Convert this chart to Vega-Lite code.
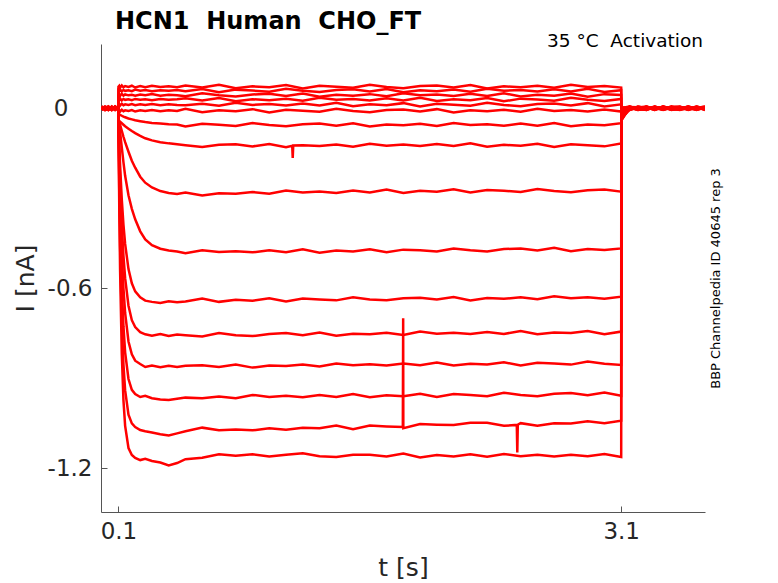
{
  "$schema": "https://vega.github.io/schema/vega-lite/v6.json",
  "description": "HCN1 human activation traces at 35 C, current against time for each voltage step.",
  "autosize": "none",
  "width": 604,
  "height": 468,
  "padding": {"left": 101, "top": 44, "right": 73, "bottom": 71},
  "title": {
    "text": "HCN1\u00a0 Human\u00a0 CHO_FT",
    "anchor": "start",
    "frame": "group",
    "dx": 14,
    "dy": 24,
    "offset": 3,
    "baseline": "alphabetic",
    "font": "DejaVu Sans",
    "fontSize": 24,
    "fontWeight": "bold",
    "color": "#000000"
  },
  "layer": [
    {
      "data": {
        "values": [
          {"t":0,"A":0.004,"B":-0.003,"C":0.006,"D":-0.005,"E":0.001,"F":-0.002,"G":0.005,"H":-0.006,"J":0.003,"K":0,"M":-0.004,"N":0.006,"P":-0.001,"Q":-0.005,"R":0.002,"S":0.004},
          {"t":0.02,"A":-0.005,"B":0.003,"C":-0.002,"D":0.006,"E":-0.004,"F":0.002,"G":-0.006,"H":0.004,"J":0,"K":-0.003,"M":0.005,"N":-0.002,"P":0.004,"Q":0.001,"R":-0.006,"S":0.003},
          {"t":0.04,"A":0.002,"B":-0.006,"C":0.004,"D":0,"E":-0.005,"F":0.006,"G":-0.002,"H":0.003,"J":-0.004,"K":0.005,"M":0,"N":-0.006,"P":0.002,"Q":-0.003,"R":0.006,"S":-0.001},
          {"t":0.06,"A":-0.003,"B":0.005,"C":-0.006,"D":0.002,"E":0.004,"F":-0.004,"G":0.001,"H":-0.005,"J":0.006,"K":-0.002,"M":0.003,"N":0.004,"P":-0.006,"Q":0.005,"R":-0.003,"S":0},
          {"t":0.08,"A":0.006,"B":0,"C":0.003,"D":-0.004,"E":-0.001,"F":0.005,"G":-0.003,"H":0.006,"J":-0.005,"K":0.002,"M":-0.006,"N":0.001,"P":0.005,"Q":-0.004,"R":0.003,"S":-0.005},
          {"t":0.099,"A":-0.002,"B":0.004,"C":-0.004,"D":0.003,"E":0.005,"F":-0.005,"G":0.002,"H":-0.002,"J":0.001,"K":-0.006,"M":0.004,"N":-0.003,"P":0,"Q":0.006,"R":-0.002,"S":0.002},
          {"t":0.1,"A":0.072,"B":0.059,"C":0.044,"D":0.029,"E":0.012,"F":-0.008,"G":-0.02,"H":-0.04,"J":-0.04,"K":-0.04,"M":-0.04,"N":-0.04,"P":-0.04,"Q":-0.04,"R":-0.04,"S":-0.04},
          {"t":0.105,"A":0.075,"B":0.057,"C":0.047,"D":0.027,"E":0.014,"F":-0.006,"G":-0.021,"H":-0.042,"J":-0.045,"K":-0.06,"M":-0.12,"N":-0.15,"P":-0.183,"Q":-0.227,"R":-0.277,"S":-0.327},
          {"t":0.11,"A":0.069,"B":0.062,"C":0.041,"D":0.032,"E":0.009,"F":-0.011,"G":-0.022,"H":-0.045,"J":-0.055,"K":-0.08,"M":-0.191,"N":-0.242,"P":-0.301,"Q":-0.376,"R":-0.459,"S":-0.541},
          {"t":0.12,"A":0.076,"B":0.056,"C":0.048,"D":0.026,"E":0.015,"F":-0.005,"G":-0.025,"H":-0.05,"J":-0.075,"K":-0.13,"M":-0.303,"N":-0.388,"P":-0.479,"Q":-0.59,"R":-0.707,"S":-0.818},
          {"t":0.13,"A":0.07,"B":0.061,"C":0.042,"D":0.031,"E":0.01,"F":-0.01,"G":-0.028,"H":-0.055,"J":-0.095,"K":-0.18,"M":-0.388,"N":-0.492,"P":-0.6,"Q":-0.726,"R":-0.854,"S":-0.973},
          {"t":0.14,"A":0.074,"B":0.058,"C":0.046,"D":0.028,"E":0.013,"F":-0.007,"G":-0.03,"H":-0.06,"J":-0.113,"K":-0.225,"M":-0.452,"N":-0.566,"P":-0.682,"Q":-0.813,"R":-0.94,"S":-1.058},
          {"t":0.16,"A":0.071,"B":0.06,"C":0.043,"D":0.03,"E":0.011,"F":-0.009,"G":-0.034,"H":-0.068,"J":-0.145,"K":-0.29,"M":-0.536,"N":-0.658,"P":-0.777,"Q":-0.902,"R":-1.021,"S":-1.132},
          {"t":0.18,"A":0.075,"B":0.057,"C":0.045,"D":0.027,"E":0.014,"F":-0.006,"G":-0.037,"H":-0.076,"J":-0.175,"K":-0.335,"M":-0.583,"N":-0.706,"P":-0.82,"Q":-0.938,"R":-1.05,"S":-1.155},
          {"t":0.2,"A":0.069,"B":0.062,"C":0.042,"D":0.031,"E":0.01,"F":-0.011,"G":-0.04,"H":-0.083,"J":-0.198,"K":-0.37,"M":-0.61,"N":-0.729,"P":-0.841,"Q":-0.952,"R":-1.062,"S":-1.165},
          {"t":0.23,"A":0.074,"B":0.058,"C":0.046,"D":0.028,"E":0.013,"F":-0.007,"G":-0.043,"H":-0.092,"J":-0.228,"K":-0.41,"M":-0.63,"N":-0.746,"P":-0.852,"Q":-0.962,"R":-1.072,"S":-1.172},
          {"t":0.26,"A":0.07,"B":0.061,"C":0.043,"D":0.03,"E":0.011,"F":-0.009,"G":-0.046,"H":-0.1,"J":-0.248,"K":-0.437,"M":-0.641,"N":-0.753,"P":-0.862,"Q":-0.958,"R":-1.076,"S":-1.168},
          {"t":0.3,"A":0.075,"B":0.057,"C":0.047,"D":0.027,"E":0.014,"F":-0.006,"G":-0.049,"H":-0.107,"J":-0.264,"K":-0.456,"M":-0.645,"N":-0.758,"P":-0.857,"Q":-0.966,"R":-1.08,"S":-1.175},
          {"t":0.35,"A":0.071,"B":0.06,"C":0.042,"D":0.031,"E":0.01,"F":-0.01,"G":-0.051,"H":-0.113,"J":-0.276,"K":-0.468,"M":-0.649,"N":-0.752,"P":-0.863,"Q":-0.97,"R":-1.086,"S":-1.18},
          {"t":0.4,"A":0.073,"B":0.058,"C":0.045,"D":0.028,"E":0.013,"F":-0.007,"G":-0.053,"H":-0.117,"J":-0.282,"K":-0.474,"M":-0.643,"N":-0.759,"P":-0.858,"Q":-0.972,"R":-1.09,"S":-1.19},
          {"t":0.45,"A":0.07,"B":0.061,"C":0.043,"D":0.03,"E":0.011,"F":-0.009,"G":-0.054,"H":-0.12,"J":-0.286,"K":-0.477,"M":-0.646,"N":-0.754,"P":-0.862,"Q":-0.968,"R":-1.083,"S":-1.182},
          {"t":0.5,"A":0.076,"B":0.057,"C":0.04,"D":0.033,"E":0.01,"F":-0.002,"G":-0.061,"H":-0.123,"J":-0.281,"K":-0.483,"M":-0.644,"N":-0.756,"P":-0.858,"Q":-0.964,"R":-1.076,"S":-1.169},
          {"t":0.6,"A":0.069,"B":0.064,"C":0.05,"D":0.026,"E":0.015,"F":-0.013,"G":-0.052,"H":-0.129,"J":-0.291,"K":-0.473,"M":-0.634,"N":-0.76,"P":-0.856,"Q":-0.966,"R":-1.064,"S":-1.164},
          {"t":0.7,"A":0.078,"B":0.053,"C":0.043,"D":0.034,"E":0.008,"F":-0.007,"G":-0.055,"H":-0.122,"J":-0.283,"K":-0.479,"M":-0.645,"N":-0.749,"P":-0.862,"Q":-0.96,"R":-1.073,"S":-1.153},
          {"t":0.8,"A":0.067,"B":0.062,"C":0.039,"D":0.023,"E":0.018,"F":-0.01,"G":-0.059,"H":-0.12,"J":-0.285,"K":-0.476,"M":-0.638,"N":-0.756,"P":-0.854,"Q":-0.966,"R":-1.07,"S":-1.158},
          {"t":0.9,"A":0.073,"B":0.059,"C":0.046,"D":0.03,"E":0.011,"F":-0.003,"G":-0.049,"H":-0.127,"J":-0.279,"K":-0.48,"M":-0.641,"N":-0.759,"P":-0.864,"Q":-0.955,"R":-1.073,"S":-1.153},
          {"t":1.0,"A":0.07,"B":0.055,"C":0.048,"D":0.027,"E":0.014,"F":-0.014,"G":-0.056,"H":-0.119,"J":-0.285,"K":-0.473,"M":-0.633,"N":-0.752,"P":-0.857,"Q":-0.962,"R":-1.066,"S":-1.16},
          {"t":1.1,"A":0.077,"B":0.065,"C":0.041,"D":0.032,"E":0.009,"F":-0.005,"G":-0.06,"H":-0.13,"J":-0.274,"K":-0.48,"M":-0.644,"N":-0.749,"P":-0.859,"Q":-0.958,"R":-1.071,"S":-1.154},
          {"t":1.137,"H":-0.125},
          {"t":1.14,"H":-0.166},
          {"t":1.143,"H":-0.124},
          {"t":1.2,"A":0.066,"B":0.058,"C":0.049,"D":0.025,"E":0.016,"F":-0.008,"G":-0.053,"H":-0.123,"J":-0.281,"K":-0.47,"M":-0.634,"N":-0.756,"P":-0.854,"Q":-0.963,"R":-1.064,"S":-1.149},
          {"t":1.3,"A":0.075,"B":0.054,"C":0.038,"D":0.035,"E":0.009,"F":-0.012,"G":-0.051,"H":-0.126,"J":-0.277,"K":-0.481,"M":-0.637,"N":-0.747,"P":-0.86,"Q":-0.955,"R":-1.066,"S":-1.159},
          {"t":1.4,"A":0.072,"B":0.061,"C":0.045,"D":0.028,"E":0.018,"F":-0.002,"G":-0.058,"H":-0.121,"J":-0.282,"K":-0.474,"M":-0.64,"N":-0.758,"P":-0.85,"Q":-0.962,"R":-1.057,"S":-1.162},
          {"t":1.5,"A":0.068,"B":0.063,"C":0.042,"D":0.031,"E":0.007,"F":-0.009,"G":-0.05,"H":-0.128,"J":-0.274,"K":-0.477,"M":-0.63,"N":-0.751,"P":-0.856,"Q":-0.952,"R":-1.069,"S":-1.154},
          {"t":1.6,"A":0.078,"B":0.056,"C":0.047,"D":0.026,"E":0.013,"F":-0.013,"G":-0.061,"H":-0.118,"J":-0.281,"K":-0.47,"M":-0.637,"N":-0.753,"P":-0.853,"Q":-0.963,"R":-1.057,"S":-1.154},
          {"t":1.7,"A":0.071,"B":0.064,"C":0.04,"D":0.033,"E":0.01,"F":-0.006,"G":-0.054,"H":-0.125,"J":-0.271,"K":-0.48,"M":-0.64,"N":-0.748,"P":-0.857,"Q":-0.956,"R":-1.06,"S":-1.16},
          {"t":1.797,"R":-1.062},
          {"t":1.799,"R":-0.7},
          {"t":1.8,"A":0.067,"B":0.053,"C":0.05,"D":0.026,"E":0.017,"F":-0.004,"G":-0.057,"H":-0.121,"J":-0.282,"K":-0.471,"M":-0.633,"N":-0.755,"P":-0.85,"Q":-0.959,"R":-1.066,"S":-1.15},
          {"t":1.9,"A":0.074,"B":0.06,"C":0.043,"D":0.035,"E":0.006,"F":-0.011,"G":-0.052,"H":-0.126,"J":-0.275,"K":-0.473,"M":-0.631,"N":-0.744,"P":-0.856,"Q":-0.951,"R":-1.052,"S":-1.163},
          {"t":2.0,"A":0.076,"B":0.057,"C":0.046,"D":0.024,"E":0.015,"F":-0.003,"G":-0.059,"H":-0.119,"J":-0.278,"K":-0.477,"M":-0.637,"N":-0.751,"P":-0.847,"Q":-0.962,"R":-1.054,"S":-1.155},
          {"t":2.1,"A":0.069,"B":0.062,"C":0.041,"D":0.03,"E":0.012,"F":-0.014,"G":-0.049,"H":-0.126,"J":-0.27,"K":-0.467,"M":-0.629,"N":-0.748,"P":-0.857,"Q":-0.952,"R":-1.055,"S":-1.16},
          {"t":2.2,"A":0.077,"B":0.055,"C":0.048,"D":0.027,"E":0.008,"F":-0.007,"G":-0.056,"H":-0.117,"J":-0.281,"K":-0.473,"M":-0.64,"N":-0.752,"P":-0.851,"Q":-0.955,"R":-1.048,"S":-1.153},
          {"t":2.3,"A":0.066,"B":0.065,"C":0.041,"D":0.034,"E":0.018,"F":-0.01,"G":-0.053,"H":-0.128,"J":-0.272,"K":-0.477,"M":-0.632,"N":-0.745,"P":-0.854,"Q":-0.959,"R":-1.048,"S":-1.161},
          {"t":2.4,"A":0.073,"B":0.058,"C":0.05,"D":0.023,"E":0.011,"F":-0.005,"G":-0.058,"H":-0.122,"J":-0.275,"K":-0.469,"M":-0.635,"N":-0.752,"P":-0.846,"Q":-0.948,"R":-1.058,"S":-1.152},
          {"t":2.477,"R":-1.055},
          {"t":2.48,"R":-1.147},
          {"t":2.483,"R":-1.054},
          {"t":2.5,"A":0.07,"B":0.061,"C":0.039,"D":0.032,"E":0.007,"F":-0.012,"G":-0.051,"H":-0.125,"J":-0.279,"K":-0.467,"M":-0.63,"N":-0.742,"P":-0.857,"Q":-0.955,"R":-1.049,"S":-1.159},
          {"t":2.6,"A":0.075,"B":0.056,"C":0.045,"D":0.029,"E":0.014,"F":-0.002,"G":-0.058,"H":-0.118,"J":-0.269,"K":-0.474,"M":-0.636,"N":-0.753,"P":-0.848,"Q":-0.959,"R":-1.058,"S":-1.154},
          {"t":2.7,"A":0.068,"B":0.063,"C":0.042,"D":0.025,"E":0.016,"F":-0.009,"G":-0.049,"H":-0.129,"J":-0.276,"K":-0.465,"M":-0.626,"N":-0.747,"P":-0.85,"Q":-0.951,"R":-1.049,"S":-1.16},
          {"t":2.8,"A":0.078,"B":0.056,"C":0.049,"D":0.035,"E":0.009,"F":-0.006,"G":-0.06,"H":-0.12,"J":-0.28,"K":-0.476,"M":-0.633,"N":-0.749,"P":-0.854,"Q":-0.949,"R":-1.05,"S":-1.154},
          {"t":2.9,"A":0.071,"B":0.065,"C":0.038,"D":0.028,"E":0.017,"F":-0.011,"G":-0.054,"H":-0.123,"J":-0.273,"K":-0.469,"M":-0.63,"N":-0.742,"P":-0.844,"Q":-0.956,"R":-1.043,"S":-1.159},
          {"t":3.0,"A":0.074,"B":0.054,"C":0.047,"D":0.024,"E":0.006,"F":-0.004,"G":-0.057,"H":-0.127,"J":-0.271,"K":-0.472,"M":-0.635,"N":-0.753,"P":-0.851,"Q":-0.947,"R":-1.049,"S":-1.152},
          {"t":3.1,"A":0.069,"B":0.06,"C":0.044,"D":0.031,"E":0.013,"F":-0.011,"G":-0.05,"H":-0.117,"J":-0.278,"K":-0.467,"M":-0.628,"N":-0.744,"P":-0.855,"Q":-0.958,"R":-1.041,"S":-1.162},
          {"t":3.101,"A":0.002,"B":0.002,"C":0.001,"D":0.002,"E":0.001,"F":0,"G":-0.01,"H":-0.015,"J":-0.02,"K":-0.025,"M":-0.03,"N":-0.03,"P":-0.035,"Q":-0.035,"R":-0.04,"S":-0.04},
          {"t":3.15,"A":0.004,"B":-0.003,"C":0.006,"D":-0.005,"E":0.001,"F":-0.002,"G":0.005,"H":-0.006,"J":0.003,"K":0,"M":-0.004,"N":0.006,"P":-0.001,"Q":-0.005,"R":0.002,"S":0.004},
          {"t":3.2,"A":-0.005,"B":0.003,"C":-0.002,"D":0.006,"E":-0.004,"F":0.002,"G":-0.006,"H":0.004,"J":0,"K":-0.003,"M":0.005,"N":-0.002,"P":0.004,"Q":0.001,"R":-0.006,"S":0.003},
          {"t":3.25,"A":0.002,"B":-0.006,"C":0.004,"D":0,"E":-0.005,"F":0.006,"G":-0.002,"H":0.003,"J":-0.004,"K":0.005,"M":0,"N":-0.006,"P":0.002,"Q":-0.003,"R":0.006,"S":-0.001},
          {"t":3.3,"A":-0.003,"B":0.005,"C":-0.006,"D":0.002,"E":0.004,"F":-0.004,"G":0.001,"H":-0.005,"J":0.006,"K":-0.002,"M":0.003,"N":0.004,"P":-0.006,"Q":0.005,"R":-0.003,"S":0},
          {"t":3.35,"A":0.006,"B":0,"C":0.003,"D":-0.004,"E":-0.001,"F":0.005,"G":-0.003,"H":0.006,"J":-0.005,"K":0.002,"M":-0.006,"N":0.001,"P":0.005,"Q":-0.004,"R":0.003,"S":-0.005},
          {"t":3.4,"A":-0.002,"B":0.004,"C":-0.004,"D":0.003,"E":0.005,"F":-0.005,"G":0.002,"H":-0.002,"J":0.001,"K":-0.006,"M":0.004,"N":-0.003,"P":0,"Q":0.006,"R":-0.002,"S":0.002},
          {"t":3.45,"A":0.003,"B":-0.005,"C":0.002,"D":-0.002,"E":0.006,"F":-0.004,"G":0.001,"H":-0.006,"J":0.004,"K":0,"M":-0.003,"N":0.005,"P":-0.001,"Q":-0.004,"R":0.003,"S":0.002},
          {"t":3.5,"A":-0.004,"B":0.006,"C":-0.003,"D":0.001,"E":-0.005,"F":0.004,"G":-0.002,"H":0.003,"J":-0.006,"K":0.005,"M":0,"N":-0.003,"P":0.006,"Q":-0.002,"R":0.001,"S":-0.004},
          {"t":3.55,"A":0.005,"B":-0.002,"C":0.004,"D":-0.006,"E":0.002,"F":0,"G":0.006,"H":-0.004,"J":0.003,"K":-0.005,"M":0.002,"N":0.004,"P":-0.003,"Q":0.006,"R":-0.005,"S":0.001},
          {"t":3.6,"A":-0.001,"B":0.003,"C":-0.005,"D":0.004,"E":-0.002,"F":0.006,"G":-0.004,"H":0.002,"J":-0.003,"K":0.001,"M":0.005,"N":-0.006,"P":0.003,"Q":-0.001,"R":0.004,"S":-0.002}
        ]
      },
      "transform": [
        {"fold": ["A", "B", "C", "D", "E", "F", "G", "H", "J", "K", "M", "N", "P", "Q", "R", "S"], "as": ["sweep", "i"]},
        {"filter": "isValid(datum.i)"}
      ],
      "mark": {"type": "line", "color": "#ff0000", "strokeWidth": 2.5, "clip": true},
      "encoding": {
        "x": {
          "field": "t",
          "type": "quantitative",
          "scale": {"domain": [-0.004, 3.6], "nice": false, "zero": false},
          "axis": {"values": [0.1, 3.1], "format": ".1f", "title": "t [s]", "labelPadding": 14, "titlePadding": 12}
        },
        "y": {
          "field": "i",
          "type": "quantitative",
          "scale": {"domain": [-1.345, 0.214], "nice": false, "zero": false},
          "axis": {
            "values": [-1.2, -0.6, 0],
            "labelExpr": "datum.value === 0 ? '0' : '-' + format(abs(datum.value), '.1f')",
            "labelPadding": {"condition": {"test": "datum.value === 0", "value": 39}, "value": 15},
            "title": "I [nA]",
            "titlePadding": 9
          }
        },
        "detail": {"field": "sweep", "type": "nominal"}
      }
    },
    {
      "data": {"values": [{"note": "35 \u00b0C\u00a0 Activation"}]},
      "mark": {"type": "text", "align": "right", "baseline": "alphabetic", "font": "DejaVu Sans", "fontSize": 18.5, "color": "#000000"},
      "encoding": {
        "x": {"datum": 3.588, "type": "quantitative"},
        "y": {
          "datum": 0.203,
          "type": "quantitative",
          "scale": {"domain": [-1.345, 0.214], "nice": false, "zero": false},
          "axis": {
            "orient": "right",
            "labels": false,
            "ticks": false,
            "domain": false,
            "title": "BBP Channelpedia ID 40645 rep 3",
            "titleAngle": 270,
            "titleFontSize": 13,
            "titleColor": "#000000",
            "titlePadding": 17
          }
        },
        "text": {"field": "note", "type": "nominal"}
      }
    }
  ],
  "resolve": {"scale": {"y": "independent"}},
  "config": {
    "view": {"stroke": null},
    "axis": {
      "grid": false,
      "domainColor": "#555555",
      "domainWidth": 1,
      "tickColor": "#555555",
      "tickSize": -6,
      "labelColor": "#262626",
      "labelFont": "DejaVu Sans",
      "labelFontSize": 23,
      "titleColor": "#262626",
      "titleFont": "DejaVu Sans",
      "titleFontSize": 25,
      "titleFontWeight": "normal"
    }
  }
}
